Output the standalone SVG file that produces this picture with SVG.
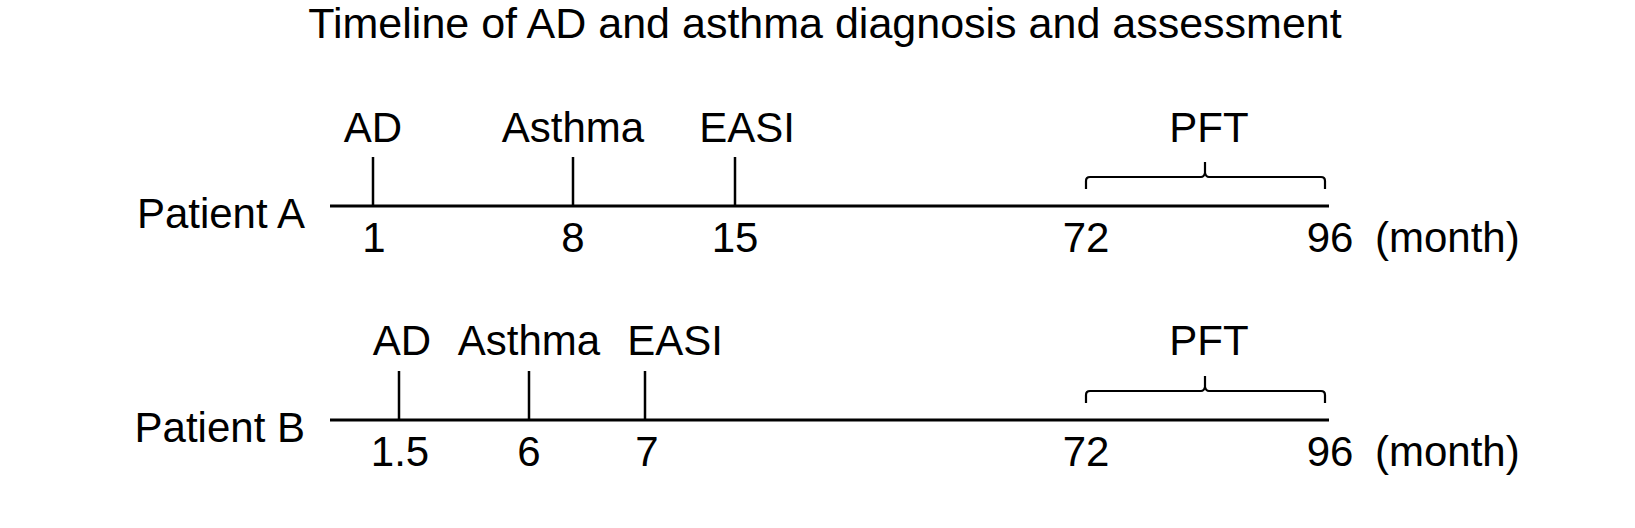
<svg xmlns="http://www.w3.org/2000/svg" width="1635" height="528" viewBox="0 0 1635 528">
<style>
text{font-family:"Liberation Sans",Arial,sans-serif;fill:#000;font-size:42px}
.c{text-anchor:middle}
.e{text-anchor:end}
.axis{stroke:#000;stroke-width:3;fill:none}
.tick{stroke:#000;stroke-width:2.5;fill:none}
.brace{stroke:#000;stroke-width:2.2;fill:none}
</style>
<defs>
<path id="brace" d="M0,12 L0,4 Q0,0 4,0 L115,0 Q118,0 119,-4 L119,-15 M119,-4 Q120,0 123,0 L235,0 Q239,0 239,4 L239,12"/>
</defs>
<rect width="1635" height="528" fill="#fff"/>
<text id="title" class="c" x="825" y="38" style="font-size:43px">Timeline of AD and asthma diagnosis and assessment</text>

<g id="patientA">
<text class="e" x="305" y="228">Patient A</text>
<g id="A-AD"><text class="c" x="373" y="142">AD</text><text class="c" x="374" y="252">1</text></g>
<g id="A-Asthma"><text class="c" x="573" y="142">Asthma</text><text class="c" x="573" y="252">8</text></g>
<g id="A-EASI"><text class="c" x="747" y="142">EASI</text><text class="c" x="735" y="252">15</text></g>
<g id="A-PFT"><text class="c" x="1209" y="142">PFT</text><text class="c" x="1086" y="252">72</text><text class="c" x="1330" y="252">96</text><text x="1375" y="252">(month)</text></g>
</g>

<g id="patientB">
<text class="e" x="305" y="442">Patient B</text>
<g id="B-AD"><text class="c" x="402" y="355">AD</text><text class="c" x="400" y="466">1.5</text></g>
<g id="B-Asthma"><text class="c" x="529" y="355">Asthma</text><text class="c" x="529" y="466">6</text></g>
<g id="B-EASI"><text class="c" x="675" y="355">EASI</text><text class="c" x="647" y="466">7</text></g>
<g id="B-PFT"><text class="c" x="1209" y="355">PFT</text><text class="c" x="1086" y="466">72</text><text class="c" x="1330" y="466">96</text><text x="1375" y="466">(month)</text></g>
</g>

<g id="connectors">
<line class="axis" x1="330" y1="206" x2="1329" y2="206"/>
<line class="tick" x1="373" y1="157" x2="373" y2="206"/>
<line class="tick" x1="573" y1="157" x2="573" y2="206"/>
<line class="tick" x1="735" y1="157" x2="735" y2="206"/>
<use href="#brace" class="brace" x="1086" y="177"/>

<line class="axis" x1="330" y1="420" x2="1329" y2="420"/>
<line class="tick" x1="399" y1="371" x2="399" y2="420"/>
<line class="tick" x1="529" y1="371" x2="529" y2="420"/>
<line class="tick" x1="645" y1="371" x2="645" y2="420"/>
<use href="#brace" class="brace" x="1086" y="391"/>
</g>
</svg>
